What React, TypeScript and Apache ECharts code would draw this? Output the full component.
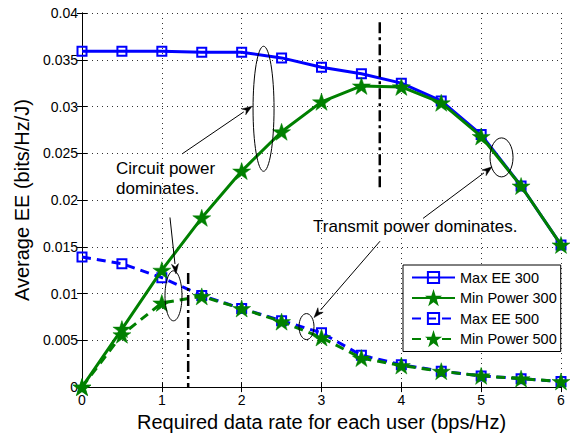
import React, { useEffect, useRef } from "react";
import * as echarts from "echarts";

const rates = [0, 0.5, 1, 1.5, 2, 2.5, 3, 3.5, 4, 4.5, 5, 5.5, 6];
const maxEE300 = [0.0359, 0.0359, 0.0359, 0.0358, 0.0358, 0.0352, 0.0342, 0.0335, 0.0325, 0.0306, 0.027, 0.0215, 0.0152];
const minPower300 = [0, 0.0062, 0.0125, 0.0181, 0.0231, 0.0273, 0.0305, 0.0322, 0.0321, 0.0304, 0.0268, 0.0215, 0.0152];
const maxEE500 = [0.0139, 0.0132, 0.0117, 0.0098, 0.0084, 0.0071, 0.0058, 0.0034, 0.0024, 0.0017, 0.0012, 0.0009, 0.0006];
const minPower500 = [0, 0.0056, 0.009, 0.0097, 0.0084, 0.007, 0.0053, 0.0031, 0.0023, 0.0017, 0.0012, 0.0009, 0.0006];
const xTicks = [0, 1, 2, 3, 4, 5, 6];
const yTicks = [0, 0.005, 0.01, 0.015, 0.02, 0.025, 0.03, 0.035, 0.04];

// annotations in data coordinates
const dashDot1 = [[3.73, 0.039], [3.73, 0.0212]];
const dashDot2 = [[1.33, 0.0122], [1.33, 0]];
const ellipses = [
  { c: [2.274, 0.02976], rx: 10.5, ry: 62.5 },
  { c: [1.146, 0.00976], rx: 8.5, ry: 25 },
  { c: [2.812, 0.00647], rx: 7.5, ry: 13 },
  { c: [5.255, 0.02456], rx: 11.5, ry: 19.5 },
];
const arrows = [
  { from: [1.253, 0.02493], to: [2.13, 0.03003] },
  { from: [1.102, 0.01814], to: [1.178, 0.0121] },
  { from: [3.733, 0.0156], to: [2.906, 0.00743] },
  { from: [4.272, 0.01804], to: [5.136, 0.02355] },
];
const notes = [
  { text: "Circuit power", at: [0.426, 0.02334] },
  { text: "dominates.", at: [0.426, 0.02122] },
  { text: "Transmit power dominates.", at: [2.894, 0.01719] },
];

const FONT = "'Liberation Sans', Arial, Helvetica, sans-serif";
const BLUE = "#0000ff";
const GREEN = "#008000";
const STAR = "path://M50,0 L61.8,35.3 L99,35.3 L69,57.1 L80.4,92.5 L50,70.7 L19.6,92.5 L31,57.1 L1,35.3 L38.2,35.3 Z";

const pairs = (ys: number[]) => rates.map((x, i) => [x, ys[i]]);

export default function App() {
  const ref = useRef<HTMLDivElement>(null);
  useEffect(() => {
    document.body.style.margin = "0";
    const chart = echarts.init(ref.current!, undefined, { renderer: "svg" });
    const axisCommon = {
      axisLine: { show: true, lineStyle: { color: "#000", width: 1 } },
      axisTick: { show: true, inside: true, length: 5, lineStyle: { color: "#000" } },
    };
    const gridLine = { show: true, lineStyle: { color: "#333", type: [1, 4] as any, width: 1 } };
    const fmtY = (v: number) => String(parseFloat(v.toFixed(3)));
    const squareItem = (dashed: boolean) => ({
      type: "line",
      symbol: "rect",
      symbolSize: 9,
      itemStyle: { color: "rgba(255,255,255,0)", borderColor: BLUE, borderWidth: 2 },
      lineStyle: { color: BLUE, width: 3, type: dashed ? ([9, 6] as any) : "solid" },
      color: BLUE,
    });
    const starItem = (dashed: boolean) => ({
      type: "line",
      symbol: STAR,
      symbolSize: 18,
      symbolKeepAspect: true,
      itemStyle: { color: GREEN, borderColor: GREEN, borderWidth: 0.5 },
      lineStyle: { color: GREEN, width: 3, type: dashed ? ([9, 6] as any) : "solid" },
      color: GREEN,
    });
    const dashDotSeries = (d: number[][]) => ({
      type: "line",
      data: d,
      symbol: "none",
      silent: true,
      lineStyle: { color: "#000", width: 2.5, type: [11, 4, 3, 4] as any },
      z: 5,
    });
    chart.setOption({
      animation: false,
      backgroundColor: "#fff",
      textStyle: { fontFamily: FONT },
      grid: { left: 82, right: 12, top: 13, bottom: 47 },
      legend: {
        data: ["Max EE 300", "Min Power 300", "Max EE 500", "Min Power 500"],
        orient: "vertical",
        left: 403,
        top: 265,
        itemWidth: 43,
        itemHeight: 14,
        itemGap: 5.5,
        padding: [5, 4, 5, 8],
        backgroundColor: "#fff",
        borderColor: "#000",
        borderWidth: 1,
        borderRadius: 0,
        textStyle: { fontSize: 14.5, color: "#000", fontFamily: FONT },
      },
      xAxis: [
        {
          type: "value",
          min: 0,
          max: 6,
          interval: 1,
          ...axisCommon,
          splitLine: gridLine,
          axisLabel: { fontSize: 14, color: "#000", margin: 6, fontFamily: FONT, customValues: xTicks } as any,
          name: "Required data rate for each user (bps/Hz)",
          nameLocation: "middle",
          nameGap: 22,
          nameTextStyle: { fontSize: 20, color: "#000", fontFamily: FONT },
        },
        {
          type: "value",
          position: "top",
          min: 0,
          max: 6,
          interval: 1,
          ...axisCommon,
          axisLabel: { show: false },
          splitLine: { show: false },
        },
      ],
      yAxis: [
        {
          type: "value",
          min: 0,
          max: 0.04,
          interval: 0.005,
          ...axisCommon,
          splitLine: gridLine,
          axisLabel: { fontSize: 14, color: "#000", margin: 4, fontFamily: FONT, formatter: fmtY, customValues: yTicks } as any,
          name: "Average EE (bits/Hz/J)",
          nameLocation: "middle",
          nameGap: 48,
          nameTextStyle: { fontSize: 20, color: "#000", fontFamily: FONT },
        },
        {
          type: "value",
          position: "right",
          min: 0,
          max: 0.04,
          interval: 0.005,
          ...axisCommon,
          axisLabel: { show: false },
          splitLine: { show: false },
        },
      ],
      series: [
        { name: "Max EE 300", data: pairs(maxEE300), ...squareItem(false), z: 2 },
        { name: "Min Power 300", data: pairs(minPower300), ...starItem(false), z: 3 },
        { name: "Max EE 500", data: pairs(maxEE500), ...squareItem(true), z: 2 },
        { name: "Min Power 500", data: pairs(minPower500), ...starItem(true), z: 3 },
        dashDotSeries(dashDot1),
        dashDotSeries(dashDot2),
      ],
    } as any);

    const px = (p: number[]) => chart.convertToPixel({ gridIndex: 0 }, p) as number[];
    const els: any[] = [];
    ellipses.forEach((e) => {
      const [cx, cy] = px(e.c);
      els.push({
        type: "ellipse",
        shape: { cx, cy, rx: e.rx, ry: e.ry },
        style: { fill: "none", stroke: "#000", lineWidth: 1 },
        z: 10,
        silent: true,
      });
    });
    arrows.forEach((a) => {
      const [x1, y1] = px(a.from);
      const [x2, y2] = px(a.to);
      const dx = x2 - x1, dy = y2 - y1;
      const L = Math.hypot(dx, dy);
      const ux = dx / L, uy = dy / L;
      const hl = 10, hw = 3.5;
      const bx = x2 - ux * hl, by = y2 - uy * hl;
      els.push({
        type: "line",
        shape: { x1, y1, x2: bx, y2: by },
        style: { stroke: "#000", lineWidth: 1 },
        z: 10,
        silent: true,
      });
      els.push({
        type: "polygon",
        shape: {
          points: [
            [x2, y2],
            [bx - uy * hw, by + ux * hw],
            [x2 - ux * hl * 0.7, y2 - uy * hl * 0.7],
            [bx + uy * hw, by - ux * hw],
          ],
        },
        style: { fill: "#000", stroke: "#000", lineWidth: 0.5 },
        z: 10,
        silent: true,
      });
    });
    notes.forEach((n) => {
      const [x, y] = px(n.at);
      els.push({
        type: "text",
        x,
        y,
        style: { text: n.text, fontSize: 17, fontFamily: FONT, fill: "#000", align: "left", verticalAlign: "middle" },
        z: 10,
        silent: true,
      });
    });
    chart.setOption({ graphic: { elements: els } } as any);
    return () => chart.dispose();
  }, []);
  return <div ref={ref} style={{ position: "fixed", left: 0, top: 0, width: 573, height: 437 }} />;
}
